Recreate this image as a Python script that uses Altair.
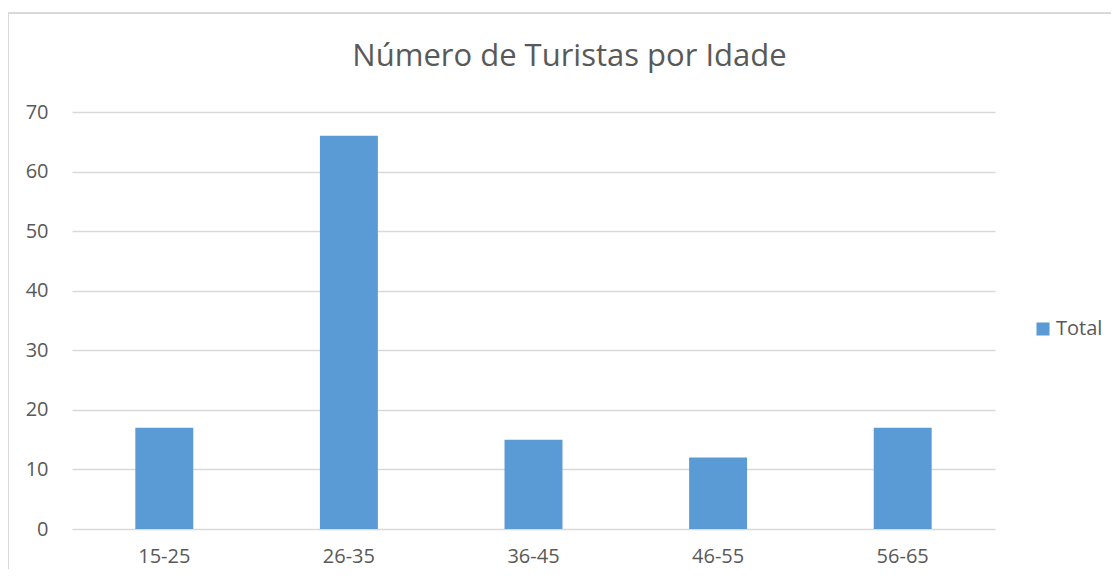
import altair as alt
import pandas as pd

categories = ["15-25", "26-35", "36-45", "46-55", "56-65"]
values = [17, 66, 15, 12, 17]
series = ["Total"] * len(categories)
title_text = ["Número de Turistas por Idade"]

df = pd.DataFrame({"idade": categories, "total": values, "serie": series})
df_title = pd.DataFrame({"t": title_text})

PLOT_W = 923
PLOT_H = 417
PAD_L = 64
PAD_T = 104

bars = alt.Chart(df).mark_bar(color="#5b9bd5").encode(
    x=alt.X("idade:N", sort=categories,
            scale=alt.Scale(paddingInner=0.686, paddingOuter=0.343),
            axis=alt.Axis(title=None, labelAngle=0, labelFontSize=20,
                          labelColor="#595959", labelFont="Open Sans",
                          labelPadding=17, ticks=False, domain=False, grid=False)),
    y=alt.Y("total:Q", scale=alt.Scale(domain=[0, 70], nice=False),
            axis=alt.Axis(title=None, values=[0, 10, 20, 30, 40, 50, 60, 70],
                          labelFontSize=20, labelColor="#595959",
                          labelFont="Open Sans", labelPadding=24,
                          ticks=False, domain=False, gridColor="#d9d9d9",
                          gridWidth=1.3)),
    fill=alt.Fill("serie:N", scale=alt.Scale(range=["#5b9bd5"]),
                  legend=alt.Legend(title=None, orient="none",
                                    legendX=PLOT_W + 38, legendY=207,
                                    symbolType="square", symbolSize=170,
                                    symbolStrokeWidth=0,
                                    labelFontSize=20, labelColor="#595959",
                                    labelFont="Open Sans", labelOffset=3)),
)

border_left = alt.Chart(df).mark_rule(color="#d9d9d9", strokeWidth=1.5, clip=False).encode(
    x=alt.value(-64), y=alt.value(-99), y2=alt.value(PLOT_H + 80)
)
border_top = alt.Chart(df).mark_rule(color="#d9d9d9", strokeWidth=1.5, clip=False).encode(
    x=alt.value(-64), x2=alt.value(PLOT_W + 200), y=alt.value(-99)
)

title = alt.Chart(df_title).mark_text(
    fontSize=31, font="Open Sans", color="#595959", align="center",
    baseline="alphabetic", clip=False
).encode(
    text="t:N", x=alt.value(PLOT_W / 2 + 36), y=alt.value(-46)
)

chart = alt.layer(border_left, border_top, bars, title).properties(
    width=PLOT_W,
    height=PLOT_H,
    autosize=alt.AutoSizeParams(type="none"),
    padding={"left": PAD_L, "top": PAD_T, "right": 116, "bottom": 40},
).configure_view(stroke=None)

chart.save("out.html", embed_options={"renderer": "svg", "actions": False})
